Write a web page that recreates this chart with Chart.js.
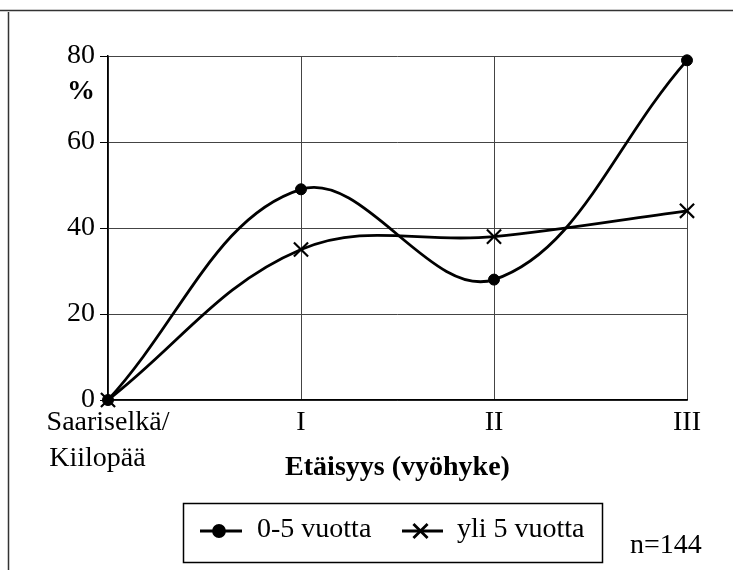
<!DOCTYPE html>
<html>
<head>
<meta charset="utf-8">
<script src="https://cdn.jsdelivr.net/npm/chart.js@4"></script>
<style>
  html, body { margin: 0; padding: 0; background: #fff; }
  #wrap { width: 733px; height: 570px; position: relative; }
</style>
</head>
<body>
<div id="wrap"><canvas id="chart" width="733" height="570"></canvas></div>
<script>
const categories = [["Saariselkä/", "Kiilopää   "], "I", "II", "III"];
const seriesNames = ["0-5 vuotta", "yli 5 vuotta"];
const youngValues = [0, 49, 28, 79];
const olderValues = [0, 35, 38, 44];
const yTicks = [0, 20, 40, 60, 80];

const FONT = "'Liberation Serif', 'Times New Roman', serif";

const frame = {
  id: "frame",
  afterDraw(chart) {
    const ctx = chart.ctx;
    const h = Chart.helpers;
    ctx.save();
    // page frame
    ctx.strokeStyle = "#333";
    ctx.lineWidth = 1.5;
    ctx.beginPath();
    ctx.moveTo(0, 10.5); ctx.lineTo(733, 10.5);
    ctx.moveTo(8.5, 12); ctx.lineTo(8.5, 570);
    ctx.stroke();

    // % label
    ctx.fillStyle = "#000";
    ctx.font = "bold 28px " + FONT;
    ctx.textAlign = "center";
    ctx.textBaseline = "middle";
    ctx.fillText("%", 81, 92);

    // legend box
    ctx.lineWidth = 1.5;
    ctx.strokeStyle = "#000";
    ctx.strokeRect(183.5, 503.5, 419, 59);
    const items = [
      { x0: 200, x1: 242, text: seriesNames[0], tx: 257, ds: chart.data.datasets[0] },
      { x0: 402, x1: 443, text: seriesNames[1], tx: 457, ds: chart.data.datasets[1] }
    ];
    ctx.font = "28px " + FONT;
    ctx.textAlign = "left";
    items.forEach(it => {
      ctx.lineWidth = 2.8;
      ctx.beginPath();
      ctx.moveTo(it.x0, 531); ctx.lineTo(it.x1, 531);
      ctx.stroke();
      ctx.fillStyle = "#000";
      h.drawPoint(ctx, {
        pointStyle: it.ds.pointStyle,
        radius: it.ds.pointRadius,
        borderWidth: it.ds.pointBorderWidth,
        rotation: 0
      }, (it.x0 + it.x1) / 2 - 2, 531);
      ctx.fillStyle = "#000";
      ctx.fillText(it.text, it.tx, 530);
    });
    ctx.textBaseline = "alphabetic";
    ctx.fillText("n=144", 630, 553);
    ctx.restore();
  }
};

new Chart(document.getElementById("chart"), {
  type: "line",
  data: {
    labels: categories,
    datasets: [
      {
        label: seriesNames[0],
        data: youngValues,
        borderColor: "#000",
        backgroundColor: "#000",
        borderWidth: 2.8,
        pointStyle: "circle",
        pointRadius: 5.5,
        pointBorderWidth: 1,
        pointBackgroundColor: "#000",
        tension: 0.38,
        clip: false
      },
      {
        label: seriesNames[1],
        data: olderValues,
        borderColor: "#000",
        backgroundColor: "#000",
        borderWidth: 2.8,
        pointStyle: "crossRot",
        pointRadius: 10,
        pointBorderWidth: 2.2,
        tension: 0.38,
        clip: false
      }
    ]
  },
  options: {
    responsive: false,
    animation: false,
    layout: { padding: { left: 0, right: 46, top: 56, bottom: 80 } },
    plugins: { legend: { display: false }, tooltip: { enabled: false } },
    scales: {
      x: {
        offset: false,
        grid: { color: "#444", lineWidth: 1, tickLength: 0 },
        border: { color: "#000", width: 1.5 },
        ticks: {
          color: "#000",
          font: { family: FONT, size: 28, lineHeight: 1.3 },
          padding: 4,
          maxRotation: 0,
          autoSkip: false
        },
        title: {
          display: true,
          text: "Etäisyys (vyöhyke)",
          color: "#000",
          font: { family: FONT, size: 28, weight: "bold", lineHeight: 1.2 },
          padding: { top: 0, bottom: 5 }
        },
        afterFit(scale) { scale.height = 90; }
      },
      y: {
        min: 0,
        max: 80,
        afterBuildTicks(scale) { scale.ticks = yTicks.map(v => ({ value: v })); },
        grid: { color: "#444", lineWidth: 1, tickLength: 8, tickColor: "#000" },
        border: { color: "#000", width: 1.5 },
        ticks: {
          color: "#000",
          font: { family: FONT, size: 28 },
          padding: 5
        },
        afterFit(scale) { scale.width = 108; }
      }
    }
  },
  plugins: [frame]
});
</script>
</body>
</html>
